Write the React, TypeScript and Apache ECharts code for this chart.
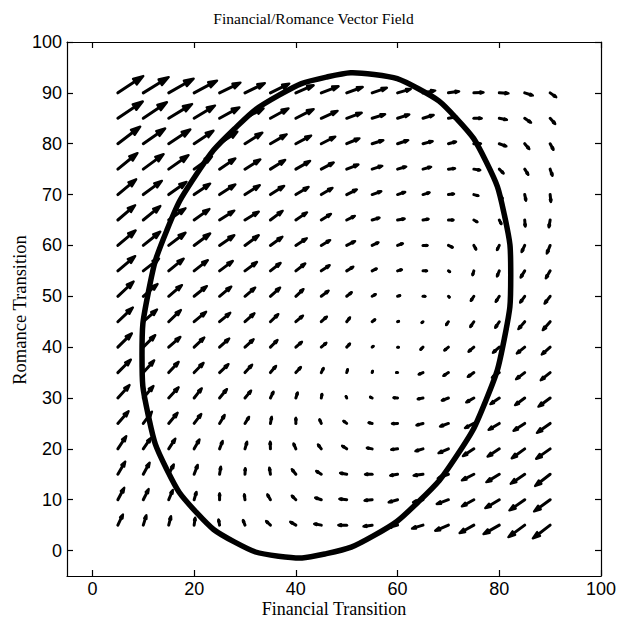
import React, { useEffect, useRef } from "react";
import * as echarts from "echarts";

// Grid of arrow tails
const X_VALUES = [5, 10, 15, 20, 25, 30, 35, 40, 45, 50, 55, 60, 65, 70, 75, 80, 85, 90];
const Y_VALUES = [90, 85, 80, 75, 70, 65, 60, 55, 50, 45, 40, 35, 30, 25, 20, 15, 10, 5];

// Arrow components (as drawn, in axis units); rows follow Y_VALUES, columns follow X_VALUES
const U_ROWS: number[][] = [
  [5.0, 5.0, 4.9, 4.5, 4.1, 3.9, 3.7, 3.5, 3.4, 3.15, 2.9, 2.6, 2.4, 2.1, 1.9, 1.8, 1.6, 1.2],
  [4.9, 4.65, 4.6, 4.1, 3.9, 3.65, 3.55, 3.5, 3.2, 2.95, 2.55, 2.3, 2.1, 1.65, 1.55, 1.5, 1.25, 1.0],
  [4.4, 4.3, 4.25, 3.8, 3.5, 3.4, 3.2, 3.0, 2.75, 2.5, 2.2, 2.1, 1.9, 1.5, 1.4, 1.4, 0.9, 0.65],
  [3.85, 4.0, 3.9, 3.5, 3.1, 3.0, 2.9, 2.8, 2.45, 2.3, 2.0, 1.7, 1.6, 1.3, 1.25, 0.85, 0.7, 0.45],
  [3.6, 3.65, 3.5, 3.15, 3.1, 2.9, 2.7, 2.5, 2.2, 2.0, 1.8, 1.5, 1.3, 1.1, 0.9, 0.65, 0.25, 0.15],
  [3.4, 3.35, 3.3, 3.0, 2.9, 2.7, 2.4, 2.2, 1.9, 1.6, 1.45, 1.4, 1.1, 1.0, 0.7, 0.4, 0.1, -0.25],
  [3.5, 3.35, 3.3, 3.15, 2.9, 2.7, 2.35, 2.15, 1.75, 1.65, 1.25, 1.05, 0.9, 0.85, 0.45, -0.45, -0.6, -0.65],
  [3.4, 3.1, 2.95, 2.7, 2.6, 2.35, 2.0, 1.85, 1.65, 1.3, 0.9, 0.85, 0.8, 0.3, -0.25, -0.45, -0.8, -0.85],
  [3.1, 2.8, 2.6, 2.5, 2.3, 2.0, 1.9, 1.5, 1.45, 1.0, 0.7, 0.5, 0.45, 0.2, -0.6, -0.7, -0.9, -1.1],
  [2.95, 2.7, 2.4, 2.35, 2.1, 1.85, 1.55, 1.4, 1.1, 0.65, 0.6, 0.25, -0.25, -0.45, -0.7, -0.8, -1.25, -1.45],
  [2.75, 2.35, 2.3, 2.0, 1.9, 1.7, 1.4, 1.2, 1.0, 0.65, 0.25, 0.2, -0.5, -0.8, -1.05, -1.25, -1.55, -1.65],
  [2.55, 2.15, 1.95, 1.85, 1.75, 1.4, 1.1, 1.0, 0.45, 0.2, 0.1, -0.25, -0.85, -1.0, -1.2, -1.45, -1.7, -1.85],
  [2.3, 2.0, 1.95, 1.5, 1.45, 1.2, 0.6, 0.35, 0.15, -0.15, -0.4, -0.8, -1.05, -1.3, -1.5, -1.75, -1.9, -2.3],
  [2.1, 1.7, 1.75, 1.4, 1.0, 0.8, 0.25, 0.0, -0.35, -0.65, -0.7, -1.1, -1.3, -1.65, -1.75, -2.1, -2.2, -2.6],
  [1.65, 1.5, 1.3, 1.05, 0.6, 0.4, -0.05, -0.45, -0.65, -0.9, -1.05, -1.25, -1.5, -1.95, -2.15, -2.3, -2.55, -2.75],
  [1.45, 1.25, 1.0, 0.7, 0.25, 0.05, -0.2, -0.8, -1.0, -1.3, -1.4, -1.45, -1.85, -2.1, -2.35, -2.55, -2.75, -2.95],
  [1.25, 1.05, 0.8, 0.45, 0.0, -0.15, -0.6, -0.8, -1.2, -1.45, -1.5, -1.75, -1.95, -2.3, -2.35, -2.75, -3.0, -3.15],
  [1.0, 0.6, 0.45, 0.2, -0.2, -0.4, -0.85, -1.1, -1.4, -1.65, -1.7, -1.9, -2.15, -2.6, -2.8, -3.1, -3.2, -3.4],
];
const V_ROWS: number[][] = [
  [3.3, 3.1, 2.8, 2.4, 2.0, 1.9, 1.8, 1.5, 1.3, 1.15, 1.0, 0.75, 0.45, 0.3, 0.1, -0.1, -0.5, -0.85],
  [3.3, 3.15, 2.8, 2.5, 2.15, 1.95, 1.95, 1.8, 1.45, 1.1, 0.8, 0.75, 0.65, 0.3, 0.0, -0.3, -0.85, -1.1],
  [3.35, 3.0, 2.8, 2.55, 2.35, 2.15, 1.85, 1.6, 1.4, 1.05, 0.7, 0.7, 0.5, 0.4, 0.0, -0.5, -1.05, -1.2],
  [3.15, 2.95, 2.75, 2.5, 2.1, 1.9, 1.8, 1.6, 1.3, 0.9, 0.65, 0.5, 0.45, 0.15, -0.2, -0.85, -1.1, -1.3],
  [3.0, 2.7, 2.5, 2.15, 2.0, 1.85, 1.7, 1.5, 1.3, 1.0, 0.65, 0.5, 0.4, 0.15, -0.25, -0.8, -1.2, -1.45],
  [2.9, 2.75, 2.3, 2.15, 1.85, 1.65, 1.8, 1.5, 1.2, 0.8, 0.45, 0.25, 0.2, 0.0, -0.4, -0.8, -1.3, -1.45],
  [2.95, 2.7, 2.5, 2.35, 2.0, 2.0, 1.7, 1.4, 1.05, 0.85, 0.6, 0.4, 0.0, -0.4, -0.8, -0.9, -1.3, -1.6],
  [2.9, 2.4, 2.4, 2.1, 1.95, 1.75, 1.55, 1.45, 1.1, 0.8, 0.45, 0.25, 0.0, -0.2, -0.85, -1.1, -1.3, -1.45],
  [2.9, 2.4, 2.2, 2.0, 1.9, 1.7, 1.7, 1.4, 1.1, 0.8, 0.4, 0.15, 0.0, -0.2, -0.9, -1.1, -1.25, -1.45],
  [2.8, 2.4, 2.3, 1.95, 1.75, 1.65, 1.5, 1.2, 1.0, 0.85, 0.45, 0.1, -0.2, -0.65, -1.05, -1.2, -1.45, -1.65],
  [2.7, 2.35, 2.0, 1.9, 1.7, 1.55, 1.4, 1.05, 0.85, 0.7, 0.2, 0.0, -0.5, -0.65, -0.9, -1.1, -1.25, -1.45],
  [2.55, 2.4, 2.1, 1.9, 1.65, 1.55, 1.3, 1.1, 0.9, 0.65, 0.3, 0.0, -0.35, -0.65, -0.85, -1.0, -1.3, -1.5],
  [2.55, 2.35, 2.1, 1.9, 1.75, 1.45, 1.25, 1.1, 0.8, 0.35, 0.2, 0.05, -0.2, -0.5, -0.85, -1.2, -1.4, -1.7],
  [2.4, 2.3, 2.1, 1.85, 1.65, 1.3, 1.3, 1.1, 0.8, 0.5, 0.15, -0.05, -0.35, -0.6, -0.9, -1.25, -1.45, -1.85],
  [2.5, 2.15, 2.0, 1.85, 1.55, 1.4, 1.4, 1.05, 0.85, 0.6, 0.2, -0.15, -0.45, -0.85, -1.4, -1.5, -1.85, -1.95],
  [2.5, 2.3, 1.95, 1.85, 1.5, 1.2, 1.3, 1.0, 0.65, 0.25, 0.0, -0.25, -0.25, -0.8, -1.2, -1.55, -1.85, -2.3],
  [2.35, 2.1, 1.9, 1.55, 1.25, 1.05, 1.05, 0.8, 0.4, 0.15, -0.15, -0.5, -0.5, -0.85, -1.3, -1.65, -2.1, -2.3],
  [2.1, 1.95, 1.75, 1.45, 1.1, 1.0, 0.8, 0.65, 0.25, 0.0, -0.25, -0.5, -0.65, -1.1, -1.55, -1.75, -2.35, -2.6],
];

// Closed trajectory, points
const ORBIT_X = [82.25, 81.0, 77.4, 71.6, 64.1, 55.4, 46.0, 36.6, 27.9, 20.4, 14.6, 11.0, 9.75, 11.0, 14.6, 20.4, 27.9, 36.6, 46.0, 55.4, 64.1, 71.6, 77.4, 81.0];
const ORBIT_Y = [54.1, 66.0, 76.5, 84.95, 90.8, 93.6, 93.1, 89.5, 82.9, 73.9, 62.9, 50.8, 38.4, 26.5, 16.0, 7.55, 1.7, -1.1, -0.6, 2.98, 9.6, 18.6, 29.6, 41.7];

const X_TICKS = [0, 20, 40, 60, 80, 100];
const Y_TICKS = [0, 10, 20, 30, 40, 50, 60, 70, 80, 90, 100];

const TITLE = "Financial/Romance Vector Field";
const X_NAME = "Financial Transition";
const Y_NAME = "Romance Transition";

export default function App() {
  const ref = useRef<HTMLDivElement>(null);

  useEffect(() => {
    if (!ref.current) return;
    const chart = echarts.init(ref.current, undefined, { renderer: "svg" });

    const arrows: number[][] = [];
    Y_VALUES.forEach((y, j) => {
      X_VALUES.forEach((x, i) => {
        arrows.push([x, y, U_ROWS[j][i], V_ROWS[j][i]]);
      });
    });
    const orbit: number[][] = ORBIT_X.map((x, k) => [x, ORBIT_Y[k]]);

    const serif = '"Liberation Serif", "Times New Roman", serif';
    const sans = '"Liberation Sans", Arial, sans-serif';
    const lw = 3;

    const axisCommon = {
      type: "value" as const,
      min: -5,
      max: 100,
      splitLine: { show: false },
      axisLine: { show: true, onZero: false, lineStyle: { color: "#000", width: 1.2 } },
    };

    const textStyle = (text: string, size: number) => ({
      text,
      font: `${size}px ${serif}`,
      fill: "#000",
      textAlign: "center",
      textVerticalAlign: "middle",
      verticalAlign: "middle",
    });

    chart.setOption({
      animation: false,
      backgroundColor: "#fff",
      grid: { left: 67, top: 42, width: 534, height: 534, containLabel: false, outerBoundsMode: "none" },
      graphic: [
        { type: "text", x: 313.5, y: 18, style: textStyle(TITLE, 15.5) },
        { type: "text", x: 334, y: 609, style: textStyle(X_NAME, 18) },
        { type: "text", x: 20, y: 310, rotation: Math.PI / 2, style: textStyle(Y_NAME, 18.5) },
      ],
      xAxis: [
        {
          ...axisCommon,
          position: "bottom",
          axisTick: { show: true, inside: true, length: 6, customValues: X_TICKS, lineStyle: { color: "#000", width: 1.2 } },
          axisLabel: { show: true, customValues: X_TICKS, color: "#000", fontFamily: sans, fontSize: 18, margin: 4 },
        },
        {
          ...axisCommon,
          position: "top",
          axisTick: { show: true, inside: true, length: 6, customValues: X_TICKS, lineStyle: { color: "#000", width: 1.2 } },
          axisLabel: { show: false },
        },
      ],
      yAxis: [
        {
          ...axisCommon,
          position: "left",
          axisTick: { show: true, inside: true, length: 6, customValues: Y_TICKS, lineStyle: { color: "#000", width: 1.2 } },
          axisLabel: { show: true, customValues: Y_TICKS, color: "#000", fontFamily: sans, fontSize: 18, margin: 5 },
        },
        {
          ...axisCommon,
          position: "right",
          axisTick: { show: true, inside: true, length: 6, customValues: Y_TICKS, lineStyle: { color: "#000", width: 1.2 } },
          axisLabel: { show: false },
        },
      ],
      series: [
        {
          type: "custom",
          xAxisIndex: 0,
          yAxisIndex: 0,
          data: arrows,
          renderItem: (params: any, api: any) => {
            const x = api.value(0);
            const y = api.value(1);
            const u = api.value(2);
            const v = api.value(3);
            const p0 = api.coord([x, y]);
            const p1 = api.coord([x + u, y + v]);
            const dx = p1[0] - p0[0];
            const dy = p1[1] - p0[1];
            const a = 0.33;
            const b = 0.33;
            const h1 = [p1[0] - a * (dx + b * dy), p1[1] - a * (dy - b * dx)];
            const h2 = [p1[0] - a * (dx - b * dy), p1[1] - a * (dy + b * dx)];
            return {
              type: "group",
              children: [
                {
                  type: "line",
                  shape: { x1: p0[0], y1: p0[1], x2: p1[0] - a * 0.5 * dx, y2: p1[1] - a * 0.5 * dy },
                  style: { stroke: "#000", lineWidth: lw, lineCap: "round" },
                },
                {
                  type: "polygon",
                  shape: { points: [h1, p1, h2] },
                  style: { fill: "#000", stroke: "#000", lineWidth: lw * 0.8, lineJoin: "round" },
                },
              ],
            };
          },
          z: 2,
        },
        {
          type: "custom",
          xAxisIndex: 0,
          yAxisIndex: 0,
          data: orbit,
          renderItem: (params: any, api: any) => {
            if (params.dataIndex !== 0) return { type: "group", children: [] };
            const pts = ORBIT_X.map((x, k) => api.coord([x, ORBIT_Y[k]]));
            return {
              type: "polygon",
              shape: { points: pts, smooth: 0.5 },
              style: { fill: "none", stroke: "#000", lineWidth: 5.5 },
            };
          },
          z: 3,
        },
      ],
    });

    return () => {
      chart.dispose();
    };
  }, []);

  return (
    <div
      ref={ref}
      style={{ position: "fixed", left: 0, top: 0, width: 627, height: 618, background: "#fff" }}
    />
  );
}
